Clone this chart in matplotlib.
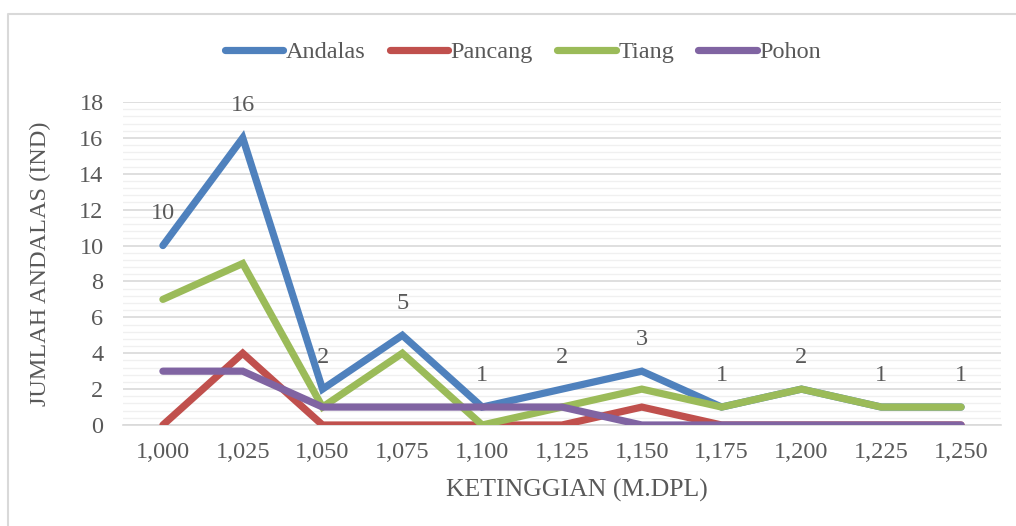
import matplotlib
matplotlib.use("Agg")
import matplotlib.pyplot as plt
from matplotlib.ticker import MultipleLocator
from matplotlib.lines import Line2D

categories = ["1,000", "1,025", "1,050", "1,075", "1,100", "1,125", "1,150", "1,175", "1,200", "1,225", "1,250"]
andalas = [10, 16, 2, 5, 1, 2, 3, 1, 2, 1, 1]
pancang = [0, 4, 0, 0, 0, 0, 1, 0, 0, 0, 0]
tiang = [7, 9, 1, 4, 0, 1, 2, 1, 2, 1, 1]
pohon = [3, 3, 1, 1, 1, 1, 0, 0, 0, 0, 0]

plt.rcParams['font.family'] = ['Liberation Serif', 'DejaVu Serif']
txt = '#595959'
W, H = 1016, 526

fig = plt.figure(figsize=(W/100, H/100), dpi=100)
ax = fig.add_axes([123/W, 1-425/H, (1001-123)/W, (425-102)/H])
# outer chart border (top and left edges visible)
fig.lines.append(Line2D([8/W, 8/W, 1.0], [0.0, 1-14/H, 1-14/H], transform=fig.transFigure,
                        color='#D9D9D9', linewidth=1.5))

x = list(range(len(categories)))
series = [("Andalas", andalas, '#4F81BD'), ("Pancang", pancang, '#C0504D'),
          ("Tiang", tiang, '#9BBB59'), ("Pohon", pohon, '#8064A2')]
for name, vals, c in series:
    ax.plot(x, vals, color=c, linewidth=5.2, label=name, solid_capstyle='round',
            solid_joinstyle='miter', zorder=3)

for xi, v in zip(x, andalas):
    ax.annotate(str(v), (xi, v), xytext=(0, 23), textcoords='offset points',
                ha='center', va='center', fontsize=17.5, color=txt, zorder=4)

ax.set_xlim(-0.5, len(categories) - 0.5)
ax.set_ylim(0, 18)
ax.yaxis.set_major_locator(MultipleLocator(2))
ax.yaxis.set_minor_locator(MultipleLocator(0.4))
ax.grid(which='major', axis='y', color='#D9D9D9', linewidth=1.2, zorder=0)
ax.grid(which='minor', axis='y', color='#F0F0F0', linewidth=1.0, zorder=0)
ax.set_axisbelow(True)
ax.set_xticks(x)
ax.set_xticklabels(categories)
ax.tick_params(axis='both', which='both', length=0, labelsize=17.5, labelcolor=txt)
ax.tick_params(axis='x', pad=12)
ax.tick_params(axis='y', pad=14)
for s in ['left', 'right', 'top']:
    ax.spines[s].set_visible(False)
ax.spines['bottom'].set_color('#D9D9D9')
ax.spines['bottom'].set_linewidth(1.2)

ax.set_xlabel("KETINGGIAN (M.DPL)", fontsize=18.5, color=txt)
ax.set_ylabel("JUMLAH ANDALAS (IND)", fontsize=17.5, color=txt)
ax.xaxis.set_label_coords((577-123)/(1001-123), -(490-425)/(425-102))
ax.yaxis.set_label_coords(-(123-40)/(1001-123), 0.5)
ax.xaxis.label.set_va('center')
ax.yaxis.label.set_va('center')

leg = ax.legend(loc='center', bbox_to_anchor=(523/W, 1-52/H), bbox_transform=fig.transFigure,
                ncol=4, frameon=False, fontsize=17.5, handlelength=2.4, handletextpad=0.1,
                columnspacing=1.0)
for t in leg.get_texts():
    t.set_color(txt)

fig.savefig("out.png", dpi=100)
